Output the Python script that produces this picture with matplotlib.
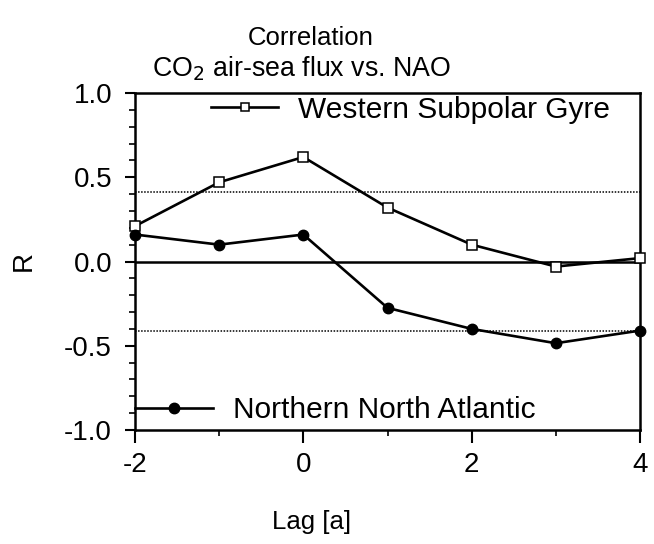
import numpy as np
import matplotlib.pyplot as plt
from matplotlib.ticker import MultipleLocator

plt.rcParams['font.family'] = ['Liberation Sans', 'DejaVu Sans']

lag = [-2, -1, 0, 1, 2, 3, 4]
wsg = [0.21, 0.47, 0.62, 0.32, 0.10, -0.03, 0.02]
nna = [0.16, 0.10, 0.16, -0.275, -0.40, -0.485, -0.41]
signif = 0.41

fig = plt.figure(figsize=(6.54, 5.44), dpi=100)
ax = fig.add_axes([135 / 654, 1 - 430 / 544, 505 / 654, 337 / 544])

ax.axhline(0, color='black', lw=1.8, zorder=1)
ax.axhline(signif, color='black', lw=1.1, ls=(0, (1, 1)), zorder=1)
ax.axhline(-signif, color='black', lw=1.1, ls=(0, (1, 1)), zorder=1)

l1, = ax.plot(lag, wsg, color='black', lw=1.9, marker='s', markersize=6.5,
              markerfacecolor='white', markeredgecolor='black', markeredgewidth=1.1,
              clip_on=False, zorder=3)
l2, = ax.plot(lag, nna, color='black', lw=1.9, marker='o', markersize=7.5,
              markerfacecolor='black', clip_on=False, zorder=3)

ax.set_xlim(-2, 4)
ax.set_ylim(-1.0, 1.0)
ax.set_xticks([-2, 0, 2, 4])
ax.set_xticklabels(['-2', '0', '2', '4'])
ax.xaxis.set_minor_locator(MultipleLocator(1))
ax.set_yticks([-1.0, -0.5, 0.0, 0.5, 1.0])
ax.set_yticklabels(['-1.0', '-0.5', '0.0', '0.5', '1.0'])
ax.yaxis.set_minor_locator(MultipleLocator(0.1))
ax.tick_params(which='major', direction='out', width=1.5, labelsize=20)
ax.tick_params(axis='y', which='major', length=7.5, pad=9)
ax.tick_params(axis='x', which='major', length=9, pad=7)
ax.tick_params(which='minor', direction='out', length=4, width=1.2)
for s in ax.spines.values():
    s.set_linewidth(1.8)

leg1 = ax.legend([l1], ['Western Subpolar Gyre'], loc='center right', frameon=False,
                 fontsize=21.5, handlelength=2.25, handletextpad=0.67, borderpad=0,
                 borderaxespad=0.0, bbox_to_anchor=(0.941, 0.95), markerscale=0.85)
ax.add_artist(leg1)
ax.legend([l2], ['Northern North Atlantic'], loc='center left', frameon=False,
          fontsize=21.5, handlelength=2.6, handletextpad=0.67, borderpad=0,
          borderaxespad=0.0, bbox_to_anchor=(0.0, 0.059), markerscale=1.0)

fig.text(311 / 654, 1 - 38 / 544, 'Correlation', ha='center', va='center', fontsize=18.5)
fig.text(302 / 654, 1 - 69 / 544, 'CO$_2$ air-sea flux vs. NAO', ha='center', va='center',
         fontsize=19.3)
fig.text(312 / 654, 1 - 522 / 544, 'Lag [a]', ha='center', va='center', fontsize=18.5)
fig.text(24 / 654, 1 - 261 / 544, 'R', ha='center', va='center', fontsize=20, rotation=90)

fig.savefig('out.png', dpi=100)
